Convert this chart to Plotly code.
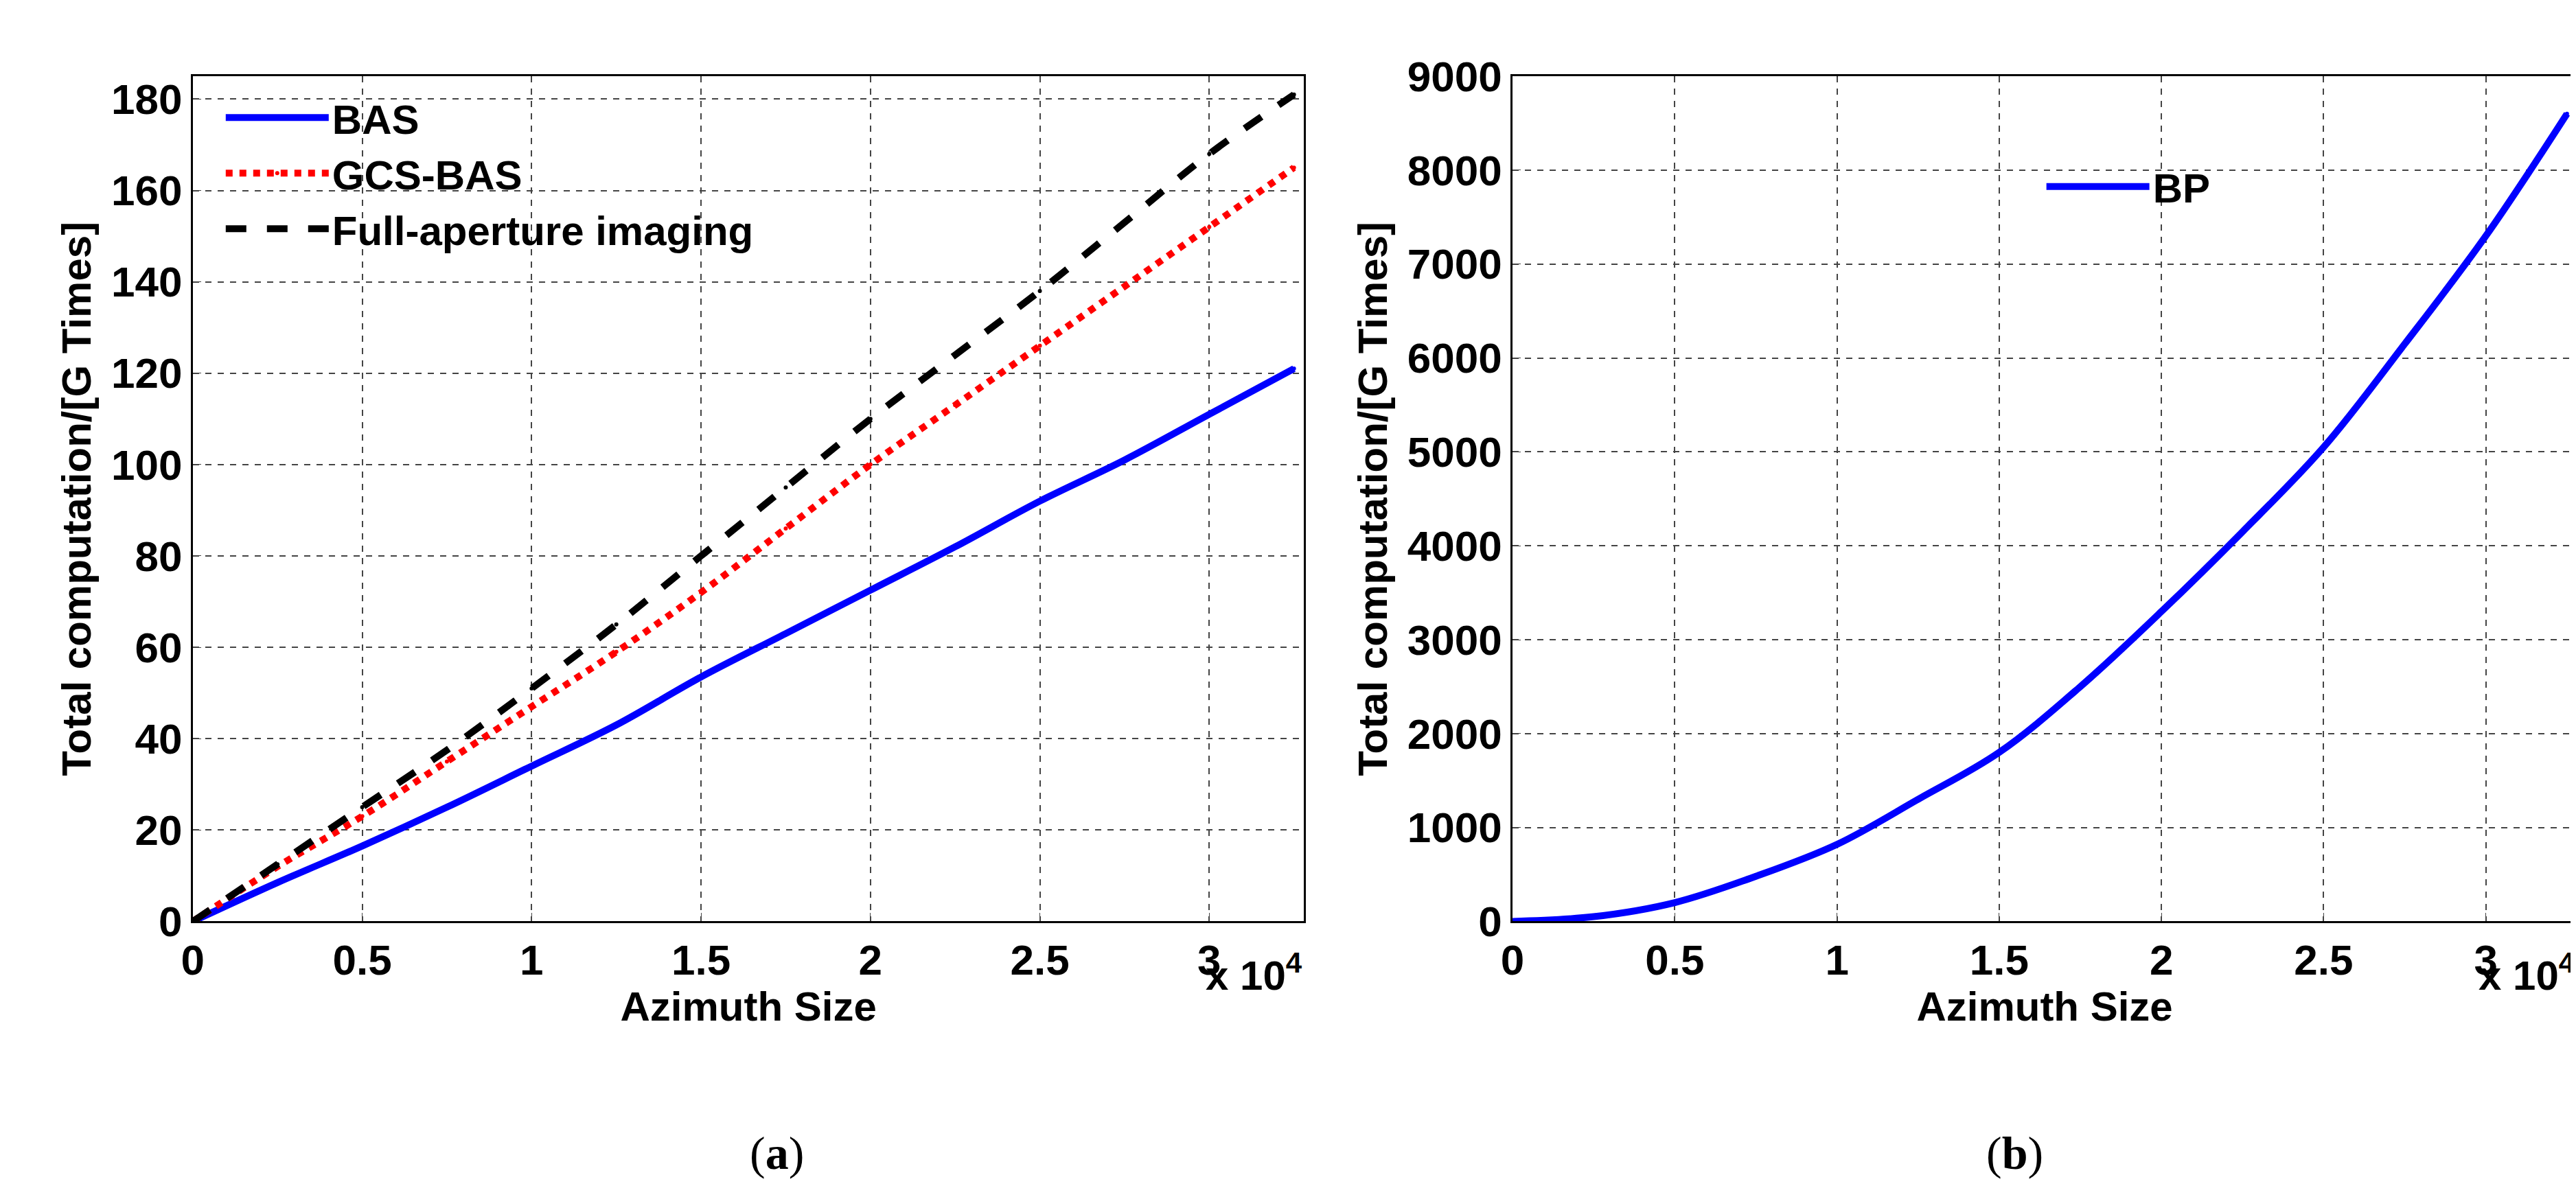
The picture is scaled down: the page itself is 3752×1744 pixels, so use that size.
import plotly.graph_objects as go

x = [0, 2500, 5000, 7500, 10000, 12500, 15000, 17500, 20000, 22500, 25000, 27500, 30000, 32500]
bas = [0, 8.5, 16.5, 25, 34, 43, 53.5, 63, 72.5, 82, 92, 101, 111, 121]
gcs = [0, 12, 23, 35, 47, 59, 72, 86, 100, 113, 126, 139, 152, 165]
full = [0, 12.5, 25, 37.5, 51, 65, 80, 95, 110, 124, 138, 153, 168, 181]
bp = [0, 50, 200, 480, 820, 1300, 1800, 2500, 3300, 4150, 5050, 6150, 7300, 8600]
xticks = [0, 5000, 10000, 15000, 20000, 25000, 30000]
xticklabels = ["0", "0.5", "1", "1.5", "2", "2.5", "3"]

W, H = 3752, 1744
F = "Liberation Sans"
fig = go.Figure()
fig.add_trace(go.Scatter(x=x, y=bas, name="<b>BAS</b>", line=dict(color="blue", width=10), line_shape="spline", xaxis="x", yaxis="y", legend="legend"))
fig.add_trace(go.Scatter(x=x, y=gcs, name="<b>GCS-BAS</b>", line=dict(color="red", width=10, dash="dot"), line_shape="spline", xaxis="x", yaxis="y", legend="legend"))
fig.add_trace(go.Scatter(x=x, y=full, name="<b>Full-aperture imaging</b>", line=dict(color="black", width=10, dash="dash"), line_shape="spline", xaxis="x", yaxis="y", legend="legend"))
fig.add_trace(go.Scatter(x=x, y=bp, name="<b>BP</b>", line=dict(color="blue", width=10), line_shape="spline", xaxis="x2", yaxis="y2", legend="legend2"))

def ax(dom, anchor, rng, **kw):
    return dict(domain=dom, anchor=anchor, range=rng, showline=True, mirror=True, linecolor="black", linewidth=3,
                showgrid=True, gridcolor="#444", griddash="dash", gridwidth=2, zeroline=False, ticks="inside", ticklen=12,
                tickfont=dict(family=F, size=62, color="black"), **kw)

xd1 = [257/W, 1883/W]; xd2 = [2188/W, 3745/W]; yd = [1 - 1354/H, 1 - 72/H]
tf = dict(family=F, size=60, color="black")
lf = dict(family=F, size=60, color="black")
fig.update_layout(
    width=W, height=H, plot_bgcolor="white", paper_bgcolor="white",
    margin=dict(l=0, r=0, t=0, b=0), showlegend=True,
    xaxis=ax(xd1, "y", [0, 32800], tickvals=xticks, ticktext=["<b>%s</b>" % t for t in xticklabels], title=dict(text="<b>Azimuth Size</b>", font=tf, standoff=5)),
    yaxis=ax(yd, "x", [0, 185], dtick=20, tickprefix="<b>", ticksuffix="</b>", title=dict(text="<b>Total computation/[G Times]</b>", font=tf, standoff=10)),
    xaxis2=ax(xd2, "y2", [0, 32800], tickvals=xticks, ticktext=["<b>%s</b>" % t for t in xticklabels], title=dict(text="<b>Azimuth Size</b>", font=tf, standoff=5)),
    yaxis2=ax(yd, "x2", [0, 9000], dtick=1000, tickprefix="<b>", ticksuffix="</b>", title=dict(text="<b>Total computation/[G Times]</b>", font=tf, standoff=10)),
    legend=dict(x=0.08, y=0.95, xanchor="left", yanchor="top", bgcolor="rgba(255,255,255,0)", font=lf, itemwidth=150, tracegroupgap=0),
    legend2=dict(x=0.79, y=0.89, xanchor="left", yanchor="top", bgcolor="rgba(255,255,255,0)", font=lf, itemwidth=150),
    annotations=[
        dict(text="<b>x 10<sup>4</sup></b>", x=xd1[1], y=1 - 1390/H, xref="paper", yref="paper", xanchor="right", yanchor="top", showarrow=False, font=tf),
        dict(text="<b>x 10<sup>4</sup></b>", x=xd2[1], y=1 - 1390/H, xref="paper", yref="paper", xanchor="right", yanchor="top", showarrow=False, font=tf),
        dict(text="(<b>a</b>)", x=(xd1[0]+xd1[1])/2, y=1 - 1705/H, xref="paper", yref="paper", yanchor="middle", showarrow=False, font=dict(family="Liberation Serif", size=68, color="black")),
        dict(text="(<b>b</b>)", x=(xd2[0]+xd2[1])/2, y=1 - 1705/H, xref="paper", yref="paper", yanchor="middle", showarrow=False, font=dict(family="Liberation Serif", size=68, color="black")),
    ],
)
fig.write_html("out.html")
